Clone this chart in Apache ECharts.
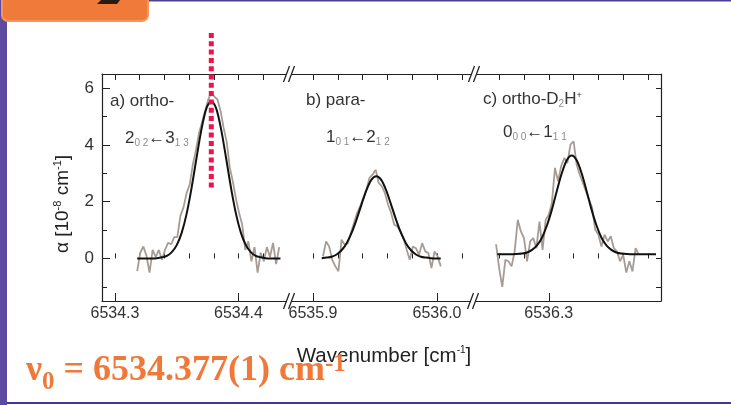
<!DOCTYPE html>
<html>
<head>
<meta charset="utf-8">
<script src="https://cdn.jsdelivr.net/npm/echarts@6/dist/echarts.min.js"></script>
<style>
  html, body { margin: 0; padding: 0; background: #fff; }
  #main { width: 731px; height: 405px; }
</style>
</head>
<body>
<div id="main"></div>
<script>
// measured spectra (grey) and gaussian fits (black), alpha in 1e-8 cm^-1
const noiseAX = [6534.3180, 6534.3205, 6534.3230, 6534.3255, 6534.3280, 6534.3305, 6534.3330, 6534.3355, 6534.3380, 6534.3405,
  6534.3430, 6534.3455, 6534.3480, 6534.3505, 6534.3530, 6534.3555, 6534.3580, 6534.3605, 6534.3630, 6534.3655,
  6534.3680, 6534.3705, 6534.3730, 6534.3755, 6534.3780, 6534.3805, 6534.3830, 6534.3855, 6534.3880, 6534.3905,
  6534.3930, 6534.3955, 6534.3980, 6534.4005, 6534.4030, 6534.4055, 6534.4080, 6534.4105, 6534.4130, 6534.4155,
  6534.4180, 6534.4205, 6534.4230, 6534.4255, 6534.4280, 6534.4305, 6534.4330];
const noiseAY = [-0.45, 0.2, 0.42, 0.1, -0.5, 0.3, 0.05, 0.3, -0.05, 0.3,
  0.55, 0.5, 0.75, 0.75, 1.5, 1.8, 2.3, 2.6, 3.3, 3.8,
  4.4, 4.8, 5.2, 5.6, 5.85, 5.7, 5.6, 5.2, 4.6, 4.1,
  3.2, 2.7, 2.1, 1.6, 1.2, 0.3, 0.6, -0.1, 0.4, -0.5,
  0.2, -0.1, 0.4, 0.05, 0.55, -0.2, 0.4];
const fitAX = [6534.318, 6534.322, 6534.326, 6534.330, 6534.334, 6534.338, 6534.342, 6534.346, 6534.350, 6534.354,
  6534.358, 6534.362, 6534.366, 6534.370, 6534.374, 6534.378, 6534.382, 6534.386, 6534.390, 6534.394,
  6534.398, 6534.402, 6534.406, 6534.410, 6534.414, 6534.418, 6534.422, 6534.426, 6534.430, 6534.434];
const fitAY = [0, 0, 0, 0, 0.01, 0.04, 0.09, 0.22, 0.47, 0.90,
  1.57, 2.48, 3.53, 4.54, 5.28, 5.55, 5.28, 4.54, 3.53, 2.48,
  1.57, 0.90, 0.47, 0.22, 0.09, 0.04, 0.01, 0, 0, 0];

const noiseBX = [6535.9080, 6535.9105, 6535.9130, 6535.9155, 6535.9180, 6535.9205, 6535.9230, 6535.9255, 6535.9280, 6535.9305,
  6535.9330, 6535.9355, 6535.9380, 6535.9405, 6535.9430, 6535.9455, 6535.9480, 6535.9505, 6535.9530, 6535.9555,
  6535.9580, 6535.9605, 6535.9630, 6535.9655, 6535.9680, 6535.9705, 6535.9730, 6535.9755, 6535.9780, 6535.9805,
  6535.9830, 6535.9855, 6535.9880, 6535.9905, 6535.9930, 6535.9955, 6535.9980, 6536.0005, 6536.0030];
const noiseBY = [0.07, 0.6, 0.42, -0.05, -0.28, -0.45, 0.66, 0.48, 0.54, 0.9,
  1.25, 1.6, 1.84, 2.13, 2.42, 2.84, 2.95, 3.13, 2.66, 2.54,
  2.3, 1.9, 1.6, 1.19, 1.13, 0.95, 0.72, 0.31, -0.05, 0.42,
  0.36, 0.13, 0.54, 0.25, 0.19, -0.34, 0.25, 0.07, -0.28];
const fitBX = [6535.907, 6535.911, 6535.915, 6535.919, 6535.923, 6535.927, 6535.931, 6535.935, 6535.939, 6535.943,
  6535.947, 6535.951, 6535.955, 6535.959, 6535.963, 6535.967, 6535.971, 6535.975, 6535.979, 6535.983,
  6535.987, 6535.991, 6535.995, 6535.999, 6536.003];
const fitBY = [0.01, 0.03, 0.06, 0.14, 0.29, 0.53, 0.89, 1.36, 1.89, 2.40,
  2.77, 2.90, 2.77, 2.40, 1.89, 1.36, 0.89, 0.53, 0.29, 0.14,
  0.06, 0.03, 0.01, 0, 0];

const noiseCX = [6536.2575, 6536.2600, 6536.2625, 6536.2650, 6536.2675, 6536.2700, 6536.2725, 6536.2750, 6536.2775, 6536.2800,
  6536.2825, 6536.2850, 6536.2875, 6536.2900, 6536.2925, 6536.2950, 6536.2975, 6536.3000, 6536.3025, 6536.3050,
  6536.3075, 6536.3100, 6536.3125, 6536.3150, 6536.3175, 6536.3200, 6536.3225, 6536.3250, 6536.3275, 6536.3300,
  6536.3325, 6536.3350, 6536.3375, 6536.3400, 6536.3425, 6536.3450, 6536.3475, 6536.3500, 6536.3525, 6536.3550,
  6536.3575, 6536.3600, 6536.3625, 6536.3650, 6536.3675, 6536.3700, 6536.3725];
const noiseCY = [0.5, -0.34, -1.0, -0.05, -0.1, -0.28, 0.25, 1.36, 0.95, 0.72,
  -0.1, 0.6, 0.72, 0.36, 1.3, 0.3, 1.36, 1.54, 1.95, 3.19,
  2.72, 3.25, 3.54, 3.36, 4.01, 4.13, 3.3, 2.95, 2.66, 2.36,
  2.07, 1.78, 1.01, 0.84, 0.42, 0.84, 0.6, 0.78, 0.36, 0.25,
  -0.1, 0.13, -0.5, -0.1, -0.46, 0.36, 0.13];
const fitCX = [6536.2585, 6536.2625, 6536.2665, 6536.2705, 6536.2745, 6536.2785, 6536.2825, 6536.2865, 6536.2905, 6536.2945,
  6536.2985, 6536.3025, 6536.3065, 6536.3105, 6536.3145, 6536.3185, 6536.3225, 6536.3265, 6536.3305, 6536.3345,
  6536.3385, 6536.3425, 6536.3465, 6536.3505, 6536.3545, 6536.3585, 6536.3625, 6536.3665, 6536.3705, 6536.3745,
  6536.3785, 6536.3825, 6536.3865];
const fitCY = [0.15, 0.15, 0.15, 0.15, 0.16, 0.17, 0.21, 0.30, 0.46, 0.73,
  1.16, 1.72, 2.38, 3.00, 3.46, 3.63, 3.46, 3.00, 2.38, 1.72,
  1.16, 0.73, 0.46, 0.30, 0.21, 0.17, 0.16, 0.15, 0.15, 0.15,
  0.15, 0.15, 0.15];

// axis ticks / labels
const xRanges = [[6534.2895, 6534.4393], [6535.879, 6536.029], [6536.2389, 6536.3905]];
const xTicks = [
  [6534.30, 6534.32, 6534.34, 6534.36, 6534.38, 6534.40, 6534.42],
  [6535.90, 6535.92, 6535.94, 6535.96, 6535.98, 6536.00, 6536.02],
  [6536.26, 6536.28, 6536.30, 6536.32, 6536.34, 6536.36, 6536.38]
];
const xLabels = [[6534.3, 6534.4], [6535.9, 6536.0], [6536.3]];
const yLabels = [0, 2, 4, 6];
const yMinor = [-1, 1, 3, 5];
const yAll = [-1, 0, 1, 2, 3, 4, 5, 6];
const nuZero = 6534.378; // red marker position

const SANS = '"Liberation Sans", Arial, Helvetica, sans-serif';
const SERIF = '"Liberation Serif", "Times New Roman", serif';
const INK = '#222';
const GREY = '#a69c95';
const ORANGE = '#f07838';

const gridEdges = [102, 287, 473, 661];
const gridTop = 74, gridBottom = 301;

const zip = (xs, ys) => xs.map((x, i) => [x, ys[i]]);

const chart = echarts.init(document.getElementById('main'));

const grid = [0, 1, 2].map(i => ({
  left: gridEdges[i], width: gridEdges[i + 1] - gridEdges[i],
  top: gridTop, height: gridBottom - gridTop,
  outerBoundsMode: 'none'
}));

const xAxis = [];
[0, 1, 2].forEach(i => {
  const base = { type: 'value', gridIndex: i, min: xRanges[i][0], max: xRanges[i][1], splitLine: { show: false } };
  xAxis.push(Object.assign({}, base, {
    position: 'bottom',
    axisLine: { onZero: false, lineStyle: { color: INK, width: 1.2 } },
    axisTick: { inside: true, length: 8, customValues: xLabels[i], lineStyle: { color: INK } },
    axisLabel: { customValues: xLabels[i], formatter: v => v.toFixed(1), color: '#333', fontSize: 16, fontFamily: SANS, margin: 5 }
  }));
  xAxis.push(Object.assign({}, base, {
    position: 'bottom',
    axisLine: { show: false },
    axisTick: { inside: true, length: 5, customValues: xTicks[i], lineStyle: { color: INK } },
    axisLabel: { show: false }
  }));
  xAxis.push(Object.assign({}, base, {
    position: 'top',
    axisLine: { onZero: false, lineStyle: { color: INK, width: 1.2 } },
    axisTick: { inside: true, length: 6, customValues: xTicks[i], lineStyle: { color: INK } },
    axisLabel: { show: false }
  }));
});

const yBase = { type: 'value', min: -1.5, max: 6.5, splitLine: { show: false } };
const yAxis = [
  Object.assign({}, yBase, {
    gridIndex: 0, position: 'left',
    axisLine: { onZero: false, lineStyle: { color: INK, width: 1.2 } },
    axisTick: { inside: true, length: 8, customValues: yLabels, lineStyle: { color: INK } },
    axisLabel: { customValues: yLabels, color: '#333', fontSize: 17, fontFamily: SANS, margin: 8 }
  }),
  Object.assign({}, yBase, {
    gridIndex: 0, position: 'left',
    axisLine: { show: false },
    axisTick: { inside: true, length: 5, customValues: yMinor, lineStyle: { color: INK } },
    axisLabel: { show: false }
  }),
  Object.assign({}, yBase, { gridIndex: 1, show: false }),
  Object.assign({}, yBase, {
    gridIndex: 2, position: 'right',
    axisLine: { onZero: false, lineStyle: { color: INK, width: 1.2 } },
    axisTick: { inside: true, length: 5, customValues: yAll, lineStyle: { color: INK } },
    axisLabel: { show: false }
  })
];

const spectra = [
  [noiseAX, noiseAY, fitAX, fitAY],
  [noiseBX, noiseBY, fitBX, fitBY],
  [noiseCX, noiseCY, fitCX, fitCY]
];
const yIdx = [0, 2, 3];
const series = [];
spectra.forEach((s, i) => {
  series.push({
    type: 'line', xAxisIndex: i * 3, yAxisIndex: yIdx[i], data: zip(s[0], s[1]),
    symbol: 'none', lineStyle: { color: GREY, width: 1.8 }, z: 2
  });
  series.push({
    type: 'line', xAxisIndex: i * 3, yAxisIndex: yIdx[i], data: zip(s[2], s[3]),
    symbol: 'none', smooth: 0.3, lineStyle: { color: '#111', width: 2 }, z: 3
  });
});

chart.setOption({
  animation: false,
  backgroundColor: '#fff',
  grid, xAxis, yAxis, series
});

// decorations
const g = [];
// slide frame
g.push({ type: 'rect', shape: { x: 0, y: 0, width: 731, height: 1.5 }, style: { fill: '#4f3f95' }, z: 1 });
g.push({ type: 'rect', shape: { x: 0, y: 402, width: 731, height: 2 }, style: { fill: '#3d3a90' }, z: 1 });
g.push({ type: 'rect', shape: { x: 0, y: 0, width: 7, height: 405 }, style: { fill: '#5e4a9f' }, z: 1 });
g.push({ type: 'rect', shape: { x: 2, y: -8, width: 146, height: 29, r: 6 }, style: { fill: '#ef7a3a', stroke: '#f4955a', lineWidth: 2 }, z: 5 });
g.push({ type: 'polygon', shape: { points: [[101, 0], [120, 0], [117, 4], [97, 4]] }, style: { fill: '#2a1a12' }, z: 6 });

// axis breaks
[[289, gridTop], [289, gridBottom], [474, gridTop], [473, gridBottom]].forEach(([bx, by]) => {
  g.push({ type: 'rect', shape: { x: bx - 2.5, y: by - 2, width: 5, height: 4 }, style: { fill: '#fff' }, z: 20 });
  [-2.5, 2.5].forEach(d => {
    g.push({ type: 'line', shape: { x1: bx + d - 3, y1: by + 8, x2: bx + d + 3, y2: by - 8 },
      style: { stroke: INK, lineWidth: 1.3 }, z: 21 });
  });
});

// red dotted marker at nu0
const rx = chart.convertToPixel({ xAxisIndex: 0 }, nuZero);
const ry = chart.convertToPixel({ yAxisIndex: 0 }, 2.5);
g.push({ type: 'line', shape: { x1: rx, y1: 33, x2: rx, y2: ry },
  style: { stroke: '#f2124a', lineWidth: 5, lineDash: [5, 3.3] }, z: 30 });

// panel annotations
const nS = { fontSize: 17, fontFamily: SANS, fill: '#333', lineHeight: 18, verticalAlign: 'top' };
const sub = { fontSize: 10, fontFamily: SANS, fill: '#8c8c8c', lineHeight: 10, padding: [12, 0, 0, 0], verticalAlign: 'bottom' };
const sup = { fontSize: 9, fontFamily: SANS, fill: '#333', lineHeight: 10, verticalAlign: 'top' };
const label = (x, y, text) => ({
  type: 'text', x, y, z: 25,
  style: { text, font: '17px ' + SANS, fill: '#333', align: 'left', verticalAlign: 'middle', rich: { n: nS, s: sub, p: sup } }
});
g.push(label(110, 101, 'a) ortho-'));
g.push(label(125, 139, '{n|2}{s|0 2}{n|\u21903}{s|1 3}'));
g.push(label(306, 100, 'b) para-'));
g.push(label(326, 138, '{n|1}{s|0 1}{n|\u21902}{s|1 2}'));
g.push(label(483, 100, '{n|c) ortho-D}{s|2}{n|H}{p|+}'));
g.push(label(503, 133, '{n|0}{s|0 0}{n|\u21901}{s|1 1}'));

// axis titles
const tN = { fontFamily: SANS, fill: '#222', verticalAlign: 'bottom' };
const tP = { fontFamily: SANS, fill: '#222', lineHeight: 10, verticalAlign: 'top' };
g.push({ type: 'text', x: 384, y: 356, z: 25,
  style: { text: '{n|Wavenumber [cm}{p|-1}{n|]}', align: 'center', verticalAlign: 'middle',
    rich: { n: Object.assign({ fontSize: 20.5, lineHeight: 22 }, tN), p: Object.assign({ fontSize: 10 }, tP) } } });
g.push({ type: 'text', x: 62, y: 204, rotation: Math.PI / 2, z: 25,
  style: { text: '{n|\u03b1 [10}{p|-8}{n| cm}{p|-1}{n|]}', align: 'center', verticalAlign: 'middle',
    rich: { n: Object.assign({ fontSize: 19, lineHeight: 20 }, tN), p: Object.assign({ fontSize: 11 }, tP) } } });

// result line
const rBase = { fontWeight: 'bold', fontFamily: SERIF, fill: ORANGE };
g.push({ type: 'text', x: 26, y: 347, z: 40,
  style: { text: '{n|\u03bd}{s|0}{n| = 6534.377(1) cm}{p|-1}', align: 'left', verticalAlign: 'top',
    rich: {
      n: Object.assign({ fontSize: 36, lineHeight: 48, verticalAlign: 'middle' }, rBase),
      s: Object.assign({ fontSize: 25, lineHeight: 25, padding: [23, 0, 0, 0], verticalAlign: 'top' }, rBase),
      p: Object.assign({ fontSize: 25, lineHeight: 25, padding: [5, 0, 0, 0], verticalAlign: 'top' }, rBase)
    } } });

chart.setOption({ graphic: g });
</script>
</body>
</html>
